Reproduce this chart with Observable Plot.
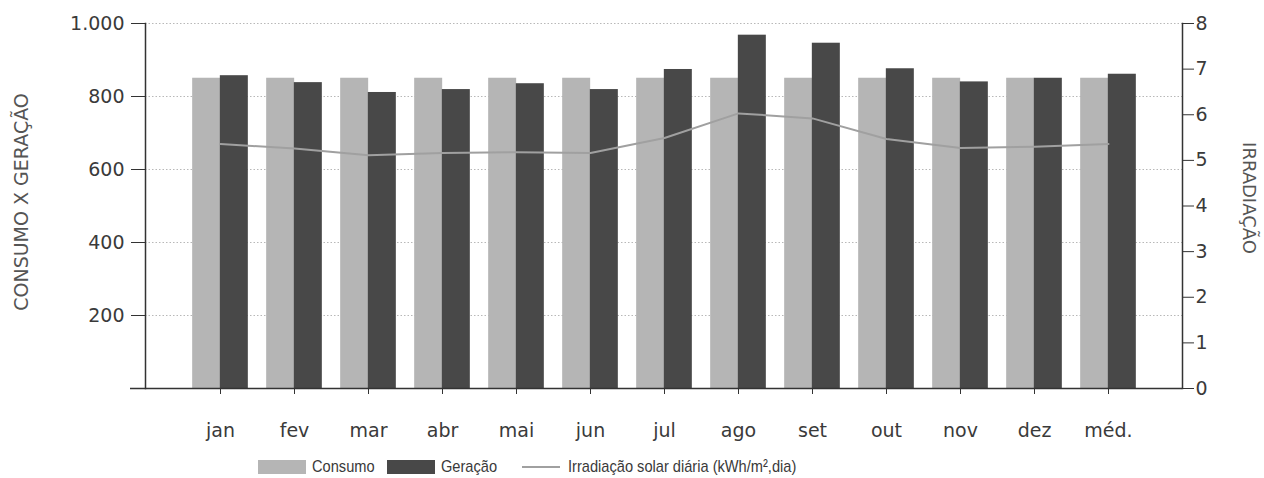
<!DOCTYPE html>
<html>
<head>
<meta charset="utf-8">
<script src="https://cdn.jsdelivr.net/npm/d3@7"></script>
<script src="https://cdn.jsdelivr.net/npm/@observablehq/plot@0.6"></script>
<style>
  html, body { margin: 0; padding: 0; background: #fff; }
  #chart svg { display: block; }
  .legend { position: relative; height: 26px; margin-top: 2px; font-family: "Liberation Sans", Arial, sans-serif; font-size: 17px; color: #3a3a3a; }
  .legend .item { position: absolute; top: 0; height: 26px; display: flex; align-items: center; white-space: nowrap; }
  .legend .sw { display: inline-block; width: 48px; height: 14px; margin-right: 6px; }
  .legend .ln { display: inline-block; width: 38px; height: 2px; margin-right: 8px; background: #9c9c9c; }
  .legend .tx { display: inline-block; transform: scaleX(0.86); transform-origin: left center; }
</style>
</head>
<body>
<div id="chart"></div>
<div class="legend" id="legend"></div>
<script>
const months = ["jan","fev","mar","abr","mai","jun","jul","ago","set","out","nov","dez","méd."];
const consumo = [850,850,850,850,850,850,850,850,850,850,850,850,850];
const geracao = [857,838,811,819,835,819,874,968,946,876,840,850,861];
const irradiacao = [5.36,5.26,5.11,5.16,5.18,5.16,5.49,6.03,5.92,5.47,5.27,5.30,5.36];
const leftTicks = [200,400,600,800,1000];
const rightTicks = [0,1,2,3,4,5,6,7,8];
const leftMax = 1000, rightMax = 8;

const W = 1264, H = 452;
const mL = 145, mR = 82, mT = 23, mB = 64;
const pInner = 0.628, pOuter = 0.787;
const bw = d3.scaleBand().domain(months).range([mL, W - mR]).paddingInner(pInner).paddingOuter(pOuter).bandwidth();

const colLight = "#b5b5b5", colDark = "#484848", colLine = "#a0a0a0";
const ratio = leftMax / rightMax;

const rows = months.map((m, i) => ({m, c: consumo[i], g: geracao[i], r: irradiacao[i]}));

const plot = Plot.plot({
  width: W, height: H,
  marginLeft: mL, marginRight: mR, marginTop: mT, marginBottom: mB,
  style: {fontFamily: "'DejaVu Sans', sans-serif", fontSize: "19px", color: "#3a3a3a", background: "#fff"},
  x: {domain: months, type: "band", paddingInner: pInner, paddingOuter: pOuter},
  y: {domain: [0, leftMax]},
  marks: [
    Plot.ruleY(leftTicks, {stroke: "#b8b8b8", strokeDasharray: "1.5,2", strokeWidth: 1}),
    Plot.barY(rows, {x: "m", y: "c", fill: colLight, dx: -bw / 2}),
    Plot.barY(rows, {x: "m", y: "g", fill: colDark, dx: bw / 2}),
    Plot.line(rows, {x: "m", y: d => d.r * ratio, stroke: colLine, strokeWidth: 2}),
    Plot.ruleY([0], {stroke: "#333", strokeWidth: 1.5, insetLeft: -15}),
    Plot.frame({anchor: "left", stroke: "#333", strokeWidth: 1.5}),
    Plot.frame({anchor: "right", stroke: "#333", strokeWidth: 1.5}),
    Plot.axisY(leftTicks, {anchor: "left", tickSize: 14, tickPadding: 7, fontSize: 19, tickFormat: d => d3.format(",")(d).replace(",", "."), label: null, stroke: "#333", fill: "#3a3a3a"}),
    Plot.axisY(rightTicks.map(t => t * ratio), {anchor: "right", tickSize: 11, tickPadding: 2, fontSize: 19, tickFormat: d => d / ratio, label: null, stroke: "#333", fill: "#3a3a3a"}),
    Plot.axisX({anchor: "bottom", tickSize: 6, tickPadding: 29, fontSize: 19, label: null, stroke: "#333", fill: "#3a3a3a", style: {letterSpacing: "1.5px"}}),
    Plot.text(["CONSUMO X GERAÇÃO"], {frameAnchor: "left", textAnchor: "middle", rotate: -90, dx: -124, dy: -4, fontSize: 19, fill: "#555", style: {letterSpacing: "1.5px"}}),
    Plot.text(["IRRADIAÇÃO"], {frameAnchor: "right", textAnchor: "middle", rotate: 90, dx: 66, dy: -8, fontSize: 18, fill: "#555", style: {letterSpacing: "0.5px"}})
  ]
});
document.getElementById("chart").appendChild(plot);

const legendItems = [
  {label: "Consumo", type: "sw", color: colLight, left: 258},
  {label: "Geração", type: "sw", color: colDark, left: 387},
  {label: "Irradiação solar diária (kWh/m²,dia)", type: "ln", color: colLine, left: 522}
];
const leg = document.getElementById("legend");
legendItems.forEach(it => {
  const d = document.createElement("div");
  d.className = "item";
  d.style.left = it.left + "px";
  const s = document.createElement("span");
  s.className = it.type;
  s.style.background = it.color;
  d.appendChild(s);
  const t = document.createElement("span");
  t.className = "tx";
  t.textContent = it.label;
  d.appendChild(t);
  leg.appendChild(d);
});
</script>
</body>
</html>
